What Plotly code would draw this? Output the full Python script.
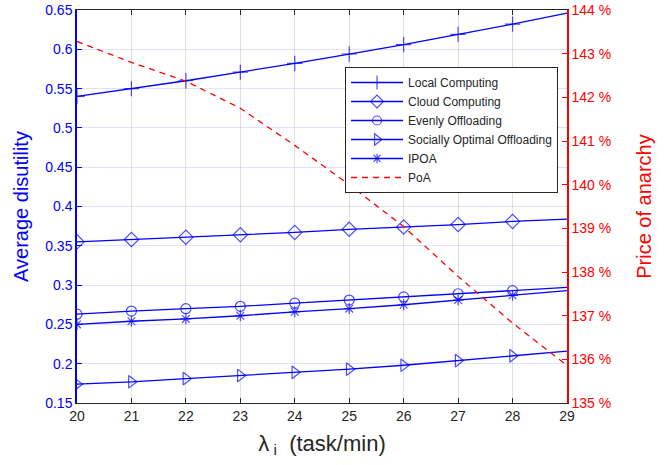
import plotly.graph_objects as go

lam = [20, 21, 22, 23, 24, 25, 26, 27, 28, 29]
local_computing = [0.540, 0.550, 0.560, 0.571, 0.582, 0.594, 0.606, 0.619, 0.632, 0.646]
cloud_computing = [0.355, 0.358, 0.361, 0.364, 0.367, 0.371, 0.374, 0.377, 0.381, 0.384]
evenly_offloading = [0.263, 0.267, 0.270, 0.273, 0.277, 0.281, 0.285, 0.289, 0.293, 0.297]
socially_optimal = [0.174, 0.177, 0.181, 0.185, 0.189, 0.193, 0.198, 0.204, 0.210, 0.216]
ipoa = [0.250, 0.254, 0.257, 0.261, 0.266, 0.270, 0.275, 0.281, 0.287, 0.293]
poa = [143.28, 142.80, 142.37, 141.75, 140.90, 140.00, 139.04, 137.90, 136.83, 135.86]

FONT = "Liberation Sans, Arial, sans-serif"
BLUE = "#0000ff"
RED = "#ff0000"
DARK = "#262626"

series = [
    ("Local Computing", local_computing, "cross-thin-open", 11),
    ("Cloud Computing", cloud_computing, "diamond-open", 11),
    ("Evenly Offloading", evenly_offloading, "circle-open", 10),
    ("Socially Optimal Offloading", socially_optimal, "triangle-right-open", 11),
    ("IPOA", ipoa, "asterisk-open", 9),
]

fig = go.Figure()
for name, vals, sym, sz in series:
    sizes = [sz] * (len(lam) - 1) + [0]
    fig.add_trace(go.Scatter(
        x=lam, y=vals, name=name, mode="lines+markers",
        line=dict(color=BLUE, width=1.3),
        marker=dict(symbol=sym, size=sizes, color=BLUE,
                    line=dict(color=BLUE, width=1.2)),
        yaxis="y",
    ))

fig.add_trace(go.Scatter(
    x=lam, y=poa, name="PoA", mode="lines",
    line=dict(color=RED, width=1.3, dash="6px,5px"),
    yaxis="y2",
))

fig.update_layout(
    width=668, height=465,
    margin=dict(l=77, r=101, t=10, b=62, autoexpand=False),
    paper_bgcolor="white", plot_bgcolor="white",
    font=dict(family=FONT, size=14, color=DARK),
    showlegend=True,
    legend=dict(
        x=0.547, y=0.855, xanchor="left", yanchor="top",
        bgcolor="white", bordercolor=DARK, borderwidth=1,
        font=dict(family=FONT, size=12, color=DARK),
        tracegroupgap=0, itemwidth=52, itemsizing="trace",
    ),
    xaxis=dict(
        range=[20, 29], dtick=1, tick0=20, automargin=False,
        showgrid=True, gridcolor="rgba(0,0,0,0.12)", gridwidth=1,
        showline=True, linecolor=DARK, linewidth=1, mirror="ticks",
        ticks="inside", ticklen=5, tickcolor=DARK,
        tickfont=dict(size=14, color=DARK),
        zeroline=False,
        title=dict(text="λ<sub> i</sub>  (task/min)", font=dict(size=22, color=DARK), standoff=12),
    ),
    yaxis=dict(
        range=[0.15, 0.65], dtick=0.05, tick0=0.15, automargin=False,
        showgrid=True, gridcolor="rgba(0,0,255,0.12)", gridwidth=1,
        showline=True, linecolor=BLUE, linewidth=1.5,
        ticks="inside", ticklen=5, tickcolor=BLUE,
        tickfont=dict(size=14, color=BLUE),
        zeroline=False,
        title=dict(text="Average disutility", font=dict(size=20, color=BLUE), standoff=11),
    ),
    yaxis2=dict(
        range=[135, 144], dtick=1, tick0=135, automargin=False,
        overlaying="y", side="right",
        showgrid=False,
        showline=True, linecolor=RED, linewidth=1.5,
        ticks="inside", ticklen=5, tickcolor=RED,
        ticksuffix=" %",
        tickfont=dict(size=14, color=RED),
        zeroline=False,
        title=dict(text="Price of anarchy", font=dict(size=20, color=RED), standoff=27),
    ),
)

fig.write_html("out.html", config={"displayModeBar": False},
               post_script="document.body.style.margin='0';")
